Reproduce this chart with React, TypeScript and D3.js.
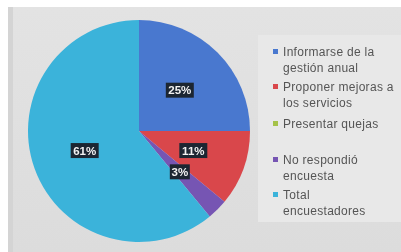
import React from "react";
import * as d3 from "d3";

const categories = [
  "Informarse de la gestión anual",
  "Proponer mejoras a los servicios",
  "Presentar quejas",
  "No respondió encuesta",
  "Total encuestadores",
];
const values = [25, 11, 0, 3, 61];
const labels = ["25%", "11%", "", "3%", "61%"];
const legendLines = [
  ["Informarse de la", "gestión anual"],
  ["Proponer mejoras a", "los servicios"],
  ["Presentar quejas"],
  ["No respondió", "encuesta"],
  ["Total", "encuestadores"],
];
const colors = ["#4a78cf", "#d9474b", "#a5c24a", "#7654b3", "#3bb3da"];

export default function App() {
  const W = 401, H = 252;
  const cx = 139, cy = 131, r = 111;
  const pie = d3.pie<number>().sort(null).value((d) => d);
  const arcs = pie(values);
  const arc = d3.arc<any>().innerRadius(0).outerRadius(r);
  const labelArc = d3.arc<any>().innerRadius(0).outerRadius(r * 1.04);
  const legendY = [52, 87, 124, 160, 195];
  return (
    <svg width={W} height={H} style={{ position: "absolute", left: 0, top: 0 }}
      fontFamily="Liberation Sans, Arial, sans-serif">
      <defs>
        <linearGradient id="bg" x1="0" y1="0" x2="0" y2="1">
          <stop offset="0" stopColor="#e3e3e3" />
          <stop offset="1" stopColor="#dcdcdc" />
        </linearGradient>
        <filter id="blur" x="-5%" y="-5%" width="110%" height="110%">
          <feGaussianBlur stdDeviation="0.6" />
        </filter>
      </defs>
      <rect x={0} y={0} width={W} height={H} fill="#ffffff" />
      <g filter="url(#blur)">
        <rect x={8} y={7} width={W - 8} height={H - 7} fill="url(#bg)" />
        <rect x={8} y={7} width={5} height={H - 7} fill="#d4d4d4" />
        <rect x={258} y={35} width={W - 258} height={187} fill="#e8e8e8" />
        <g transform={`translate(${cx},${cy})`}>
          {arcs.map((a, i) => (
            <path key={i} d={arc(a) || ""} fill={colors[i]} />
          ))}
          {arcs.map((a, i) => {
            if (!labels[i]) return null;
            const [x, y] = labelArc.centroid(a);
            const w = labels[i].length * 8 + 4;
            return (
              <g key={"l" + i} transform={`translate(${x},${y})`}>
                <rect x={-w / 2} y={-7.5} width={w} height={15} fill="#1e2733" />
                <text textAnchor="middle" dy="0.36em" fontSize={11.5} fontWeight="bold" fill="#f2f2f2">
                  {labels[i]}
                </text>
              </g>
            );
          })}
        </g>
        {categories.map((c, i) => (
          <g key={"lg" + i}>
            <rect x={273} y={legendY[i] - 3} width={5} height={5} fill={colors[i]} />
            {legendLines[i].map((t, j) => (
              <text key={j} x={283} y={legendY[i] + j * 16} dy="0.35em" fontSize={12}
                fill="#555555" letterSpacing={0.3}>
                {t}
              </text>
            ))}
          </g>
        ))}
      </g>
    </svg>
  );
}
